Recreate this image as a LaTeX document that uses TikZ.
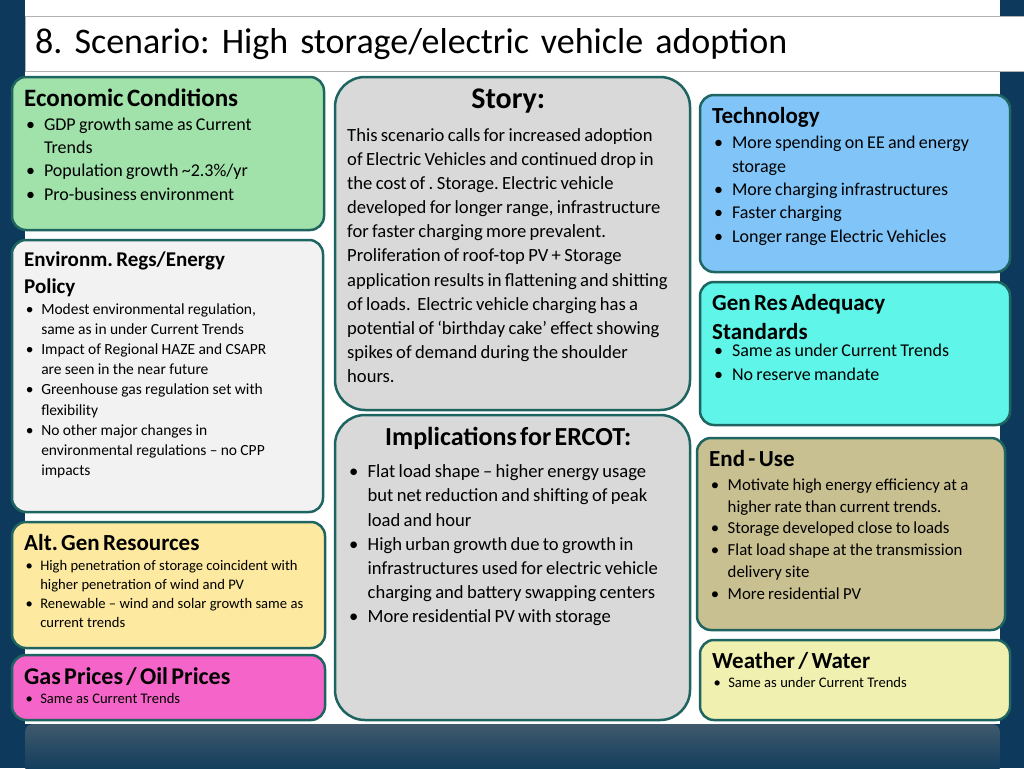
\documentclass[tikz,border=0pt]{standalone}
\usepackage{fontspec}
\setmainfont{Carlito}
\usepackage{enumitem}
\setlist[itemize]{label=\textbullet,leftmargin=1.1em,labelsep=0.5em,itemsep=0pt,topsep=0pt,parsep=0pt,partopsep=0pt}
\usetikzlibrary{positioning}
\frenchspacing
\definecolor{navy}{HTML}{0D3A5C}
\definecolor{rim}{HTML}{1E6460}
\tikzset{
    panel/.style={draw=rim,line width=2.5pt,rounded corners=14pt},
    txt/.style={anchor=north west,align=left,inner sep=0pt}
}
\newcommand{\body}[1]{\fontsize{#1}{1.3\dimexpr#1pt\relax}\selectfont\hyphenpenalty=10000\raggedright}
\newcommand{\hd}[1]{\fontsize{#1}{1.25\dimexpr#1pt\relax}\selectfont\bfseries\hyphenpenalty=10000\raggedright}
% name, x, y, width, height, fill, text width, text
\newcommand{\panel}[8]{%
    \draw[panel,fill=#6] (#2,#3) rectangle ++(#4,#5);
    \node[txt,text width=#7] (#1) at (#2+12,#3+12) {#8};}
\begin{document}
\begin{tikzpicture}[x=1pt,y=-1pt]
    \useasboundingbox (0,0) rectangle (1024,768);
    \fill[navy] (0,0) rectangle (1024,768);
    \fill[white] (25,0) rectangle (1000,724);
    \shade[top color=navy!55!gray,bottom color=navy,rounded corners=8pt] (25,724) rectangle (1000,775);
    % title
    \node[draw=gray!60,fill=white,anchor=north west,minimum width=1000pt,minimum height=55pt,
        text width=980pt,align=left,inner xsep=6pt,font=\fontsize{36}{40}\selectfont] (title) at (25,16)
        {8. Scenario: High storage/electric vehicle adoption};
    % left column
    \panel{econ}{12}{77}{312}{153}{{rgb,255:red,160;green,226;blue,170}}{275pt}
        {{\hd{25}Economic Conditions\par}{\body{18}\begin{itemize}
        \item GDP growth same as Current Trends
        \item Population growth \textasciitilde2.3\%/yr
        \item Pro-business environment\end{itemize}\par}}
    \panel{regs}{12}{240}{311}{272}{gray!10}{265pt}
        {\vspace*{4pt}{\hd{21}\parbox{230pt}{\raggedright Environm. Regs/Energy Policy}\par}\vspace{2pt}{\body{15.5}\begin{itemize}
        \item Modest environmental regulation, same as in under Current Trends
        \item Impact of Regional HAZE and CSAPR are seen in the near future
        \item Greenhouse gas regulation set with flexibility
        \item No other major changes in environmental regulations -- no CPP impacts\end{itemize}\par}}
    \panel{altgen}{12}{522}{313}{126}{{rgb,255:red,253;green,233;blue,160}}{280pt}
        {{\hd{23}Alt. Gen Resources\par}\vspace{1pt}{\body{14.6}\begin{itemize}
        \item High penetration of storage coincident with higher penetration of wind and PV
        \item Renewable -- wind and solar growth same as current trends\end{itemize}\par}}
    \panel{gas}{12}{655}{313}{65}{{rgb,255:red,245;green,100;blue,200}}{290pt}
        {{\hd{24}Gas Prices / Oil Prices\par}{\body{14.6}\begin{itemize}\item Same as Current Trends\end{itemize}\par}}
    % middle column
    \begin{scope}[panel/.append style={rounded corners=30pt}]
    \panel{story}{335}{77}{355}{333}{gray!30}{322pt}
        {\vspace*{8pt}{\hd{30}\centering Story:\par}{\body{18.6}This scenario calls for increased adoption of Electric Vehicles and continued drop in the cost of . Storage. Electric vehicle developed for longer range, infrastructure for faster charging more prevalent. Proliferation of roof-top PV + Storage application results in flattening and shitting of loads.\ \ Electric vehicle charging has a potential of `birthday cake' effect showing spikes of demand during the shoulder hours.\par}}
    \panel{implic}{335}{415}{355}{305}{gray!30}{322pt}
        {\vspace*{8pt}{\hd{26}\centering Implications for ERCOT:\par}{\body{18.6}\begin{itemize}
        \item Flat load shape -- higher energy usage but net reduction and shifting of peak load and hour
        \item High urban growth due to growth in infrastructures used for electric vehicle charging and battery swapping centers
        \item More residential PV with storage\end{itemize}\par}}
    \end{scope}
    % right column
    \panel{tech}{700}{95}{310}{177}{{rgb,255:red,128;green,196;blue,248}}{285pt}
        {\vspace*{2pt}{\hd{23}Technology\par}{\body{18}\begin{itemize}
        \item More spending on EE and energy storage
        \item More charging infrastructures
        \item Faster charging
        \item Longer range Electric Vehicles\end{itemize}\par}}
    \panel{genres}{700}{282}{310}{143}{{rgb,255:red,95;green,245;blue,232}}{285pt}
        {\vspace*{2pt}{\hd{23}\parbox{220pt}{\raggedright Gen Res Adequacy Standards}\par}\vspace{2pt}{\body{18}\begin{itemize}
        \item Same as under Current Trends
        \item No reserve mandate\end{itemize}\par}}
    \panel{enduse}{697}{438}{308}{192}{{rgb,255:red,200;green,192;blue,144}}{275pt}
        {\vspace*{2pt}{\hd{23}End - Use\par}{\body{16.8}\begin{itemize}
        \item Motivate high energy efficiency at a higher rate than current trends.
        \item Storage developed close to loads
        \item Flat load shape at the transmission delivery site
        \item More residential PV\end{itemize}\par}}
    \panel{weather}{700}{640}{310}{80}{{rgb,255:red,240;green,240;blue,176}}{285pt}
        {{\hd{23}Weather / Water\par}{\body{14.6}\begin{itemize}\item Same as under Current Trends\end{itemize}\par}}
\end{tikzpicture}
\end{document}
